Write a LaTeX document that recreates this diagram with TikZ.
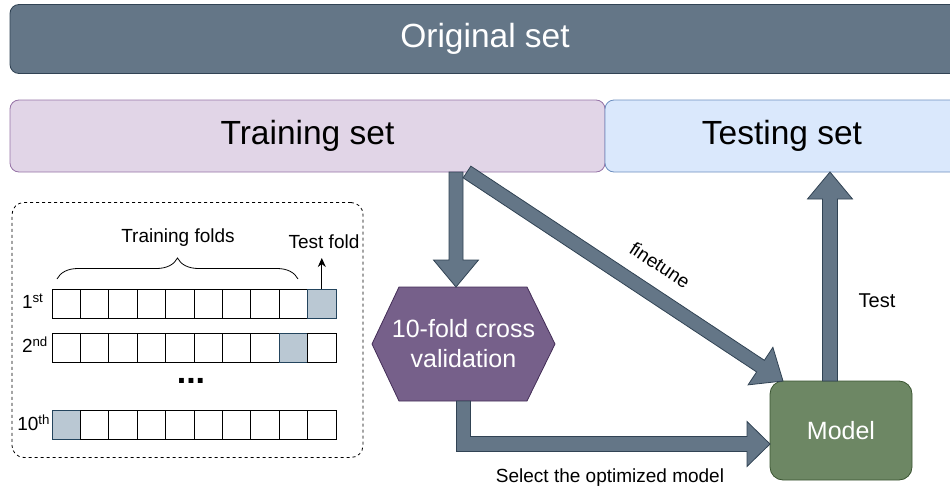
\documentclass[tikz,border=0pt]{standalone}
\usepackage{fontspec}
\setmainfont{Liberation Sans}
\usetikzlibrary{calc,arrows.meta,backgrounds,decorations.pathreplacing}
\definecolor{origfill}{HTML}{647687}
\definecolor{origdraw}{HTML}{314354}
\definecolor{trainfill}{HTML}{E1D5E7}
\definecolor{traindraw}{HTML}{9673A6}
\definecolor{testfill}{HTML}{DAE8FC}
\definecolor{testdraw}{HTML}{6C8EBF}
\definecolor{hexfill}{HTML}{76608A}
\definecolor{hexdraw}{HTML}{432D57}
\definecolor{modelfill}{HTML}{6D8764}
\definecolor{modeldraw}{HTML}{3A5431}
\definecolor{cellfill}{HTML}{BAC8D3}
\definecolor{celldraw}{HTML}{23445D}
\newcommand\fatarrow[5]{%
  \path (#1) coordinate (faS) (#2) coordinate (faE);
  \coordinate (faB) at ($(faE)!#5!(faS)$);
  \filldraw[fatarrowstyle] ($(faS)!#3!90:(faE)$) -- ($(faB)!#3!-90:(faS)$) -- ($(faB)!#4!-90:(faS)$) -- (faE) -- ($(faB)!#4!90:(faS)$) -- ($(faB)!#3!90:(faS)$) -- ($(faS)!#3!-90:(faE)$) -- cycle;
}
\begin{document}
\begin{tikzpicture}[x=1pt,y=-1pt,
  every node/.style={outer sep=0pt,inner sep=0pt},
  bigbox/.style={draw,line width=0.8pt,rounded corners=9pt,font=\fontsize{33.5}{38}\selectfont},
  cell/.style={draw=black,line width=1pt,fill=white,minimum width=28.4pt,minimum height=29pt},
  shaded/.style={cell,fill=cellfill,draw=celldraw},
  smalllabel/.style={font=\fontsize{19}{22}\selectfont},
  ordlabel/.style={font=\fontsize{19}{21}\selectfont,anchor=west},
  fatarrowstyle/.style={fill=origfill,draw=origdraw,line width=0.8pt,line join=miter},
  whitetext/.style={text=white,font=\fontsize{25}{30}\selectfont,align=center}
]
\useasboundingbox (0,0) rectangle (950,495);

% top boxes
\node[bigbox,fill=origfill,draw=origdraw,text=white,minimum width=950pt,minimum height=69pt] (orig) at (485,39) {Original set};
\node[bigbox,fill=trainfill,draw=traindraw,minimum width=595pt,minimum height=72pt] (train) at (307.5,136) {Training set};
\node[bigbox,fill=testfill,draw=testdraw,minimum width=354pt,minimum height=72pt] (test) at (782,136) {Testing set};

% dashed box
\node[draw,dashed,line width=0.8pt,rounded corners=12pt,minimum width=351pt,minimum height=255pt] (cvbox) at (187.5,330) {};

% fold rows
\foreach \r/\y/\s in {1/303.5/10, 2/347.5/9, 3/424.5/1}{
  \foreach \c in {1,...,10}{
    \pgfmathsetmacro\cx{52+28.4*(\c-0.5)}
    \ifnum\c=\s
      \node[shaded] (r\r c\c) at (\cx,\y) {};
    \else
      \node[cell] (r\r c\c) at (\cx,\y) {};
    \fi
  }
}
\node[ordlabel] (l1) at (22,301) {1\textsuperscript{st}};
\node[ordlabel] (l2) at (22,345) {2\textsuperscript{nd}};
\node[ordlabel,anchor=east] (l3) at (50,423) {10\textsuperscript{th}};
\node[font=\fontsize{34}{36}\selectfont\bfseries] (dots) at (191,381) {...};

% brace and labels
\coordinate (braceL) at (57,279);
\coordinate (braceR) at (298,279);
\draw[line width=0.8pt,decorate,decoration={brace,amplitude=21pt}] (braceL) -- (braceR);
\node[smalllabel] (tflabel) at (178,238) {Training folds};
\node[smalllabel] (testfold) at (324,242) {Test fold};
\draw[line width=1.1pt,-{Stealth[length=9pt,width=8pt]}] (r1c10.north) -- (r1c10.north |- 0,258);

% hexagon
\node[whitetext,minimum width=183pt,minimum height=114pt] (hex) at (463.5,344) {10-fold cross\\validation};
\begin{scope}[on background layer]
\filldraw[fill=hexfill,draw=hexdraw,line width=0.8pt] (hex.west) -- ($(hex.north west)+(27,0)$) -- ($(hex.north east)+(-28,0)$) -- (hex.east) -- ($(hex.south east)+(-28,0)$) -- ($(hex.south west)+(27,0)$) -- cycle;
\end{scope}

% model
\node[whitetext,fill=modelfill,draw=modeldraw,line width=0.8pt,rounded corners=13pt,minimum width=142pt,minimum height=99pt] (model) at (841,430.5) {Model};

% arrows
\coordinate (cvstart) at ($(train.south)+(148.5,0)$);
\coordinate (cvend) at ($(hex.north)+(-7.5,0)$);
\fatarrow{cvstart}{cvend}{7pt}{22.5pt}{27pt}

\coordinate (ftstart) at ($(train.south)+(159.5,0)$);
\coordinate (ftend) at ($(model.north west)+(13,0)$);
\fatarrow{ftstart}{ftend}{7pt}{22.5pt}{27pt}
\node[smalllabel,rotate=-33.5] (ftlabel) at (660,265) {finetune};

\coordinate (teststart) at ($(model.north)+(-11,0)$);
\coordinate (testend) at (teststart |- test.south);
\fatarrow{teststart}{testend}{7.5pt}{22.5pt}{27pt}
\node[smalllabel,font=\fontsize{20}{22}\selectfont] (testlabel) at (877,301) {Test};

% selection arrow (elbow)
\coordinate (selin) at ($(model.west)+(0,13.5)$);
\coordinate (selcorner) at (hex.south |- selin);
\filldraw[fatarrowstyle]
  ($(hex.south)+(-7,0)$) -- ($(selcorner)+(-7,7.5)$) -- ($(selin)+(-23,7.5)$) -- ($(selin)+(-23,22.5)$) -- (selin)
  -- ($(selin)+(-23,-22.5)$) -- ($(selin)+(-23,-7.5)$) -- ($(selcorner)+(7,-7.5)$) -- ($(hex.south)+(7,0)$) -- cycle;
\node[font=\fontsize{19}{22}\selectfont] (sellabel) at (610,478) {Select the optimized model};
\end{tikzpicture}
\end{document}
